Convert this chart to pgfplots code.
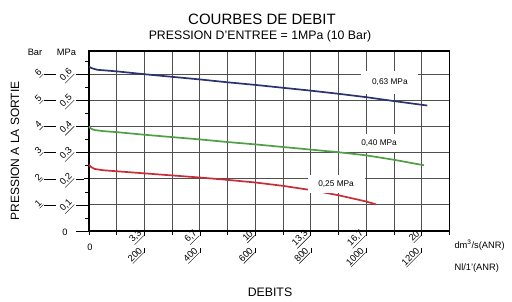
\documentclass[border=0pt]{standalone}
\usepackage{pgfplots}
\pgfplotsset{compat=1.18}
\usepackage{fontspec}
\setmainfont{Liberation Sans}
\definecolor{cblue}{RGB}{43,50,112}
\definecolor{cgreen}{RGB}{80,158,70}
\definecolor{cred}{RGB}{200,45,55}
\definecolor{grd}{RGB}{80,80,80}
\newcommand{\tl}{\fontsize{9.3}{9.3}\selectfont}
\begin{document}
\begin{tikzpicture}
\path (0pt,0pt) rectangle (512pt,301pt);
\node[font=\fontsize{15}{15}\selectfont] at (262pt,281.5pt) {COURBES DE DEBIT};
\node[font=\fontsize{12.3}{12.3}\selectfont] at (260pt,264.5pt) {PRESSION D'ENTREE = 1MPa (10 Bar)};
\node[font=\tl] at (35pt,249pt) {Bar};
\node[font=\tl] at (66.5pt,249pt) {MPa};
\node[rotate=90,font=\fontsize{12}{12}\selectfont] at (15pt,150pt) {PRESSION A LA SORTIE};
\node[font=\fontsize{12.3}{12.3}\selectfont] at (270pt,9pt) {DEBITS};
\node[anchor=west,font=\tl] at (451pt,56pt) {dm\textsuperscript{3}/s(ANR)};
\node[anchor=west,font=\tl] at (451pt,33pt) {Nl/1'(ANR)};
\begin{axis}[
  at={(89pt,70pt)}, anchor=south west, scale only axis,
  width=360.5pt, height=180pt,
  xmin=0, xmax=1300, ymin=0, ymax=0.69,
  axis line style={line width=1.6pt, black},
  xtick={200,400,600,800,1000,1200},
  xticklabels={{\underline{3,3}},{\underline{6,7}},{\underline{10}},{\underline{13,3}},{\underline{16,7}},{\underline{20}}},
  minor xtick={0,100,300,500,700,900,1100,1300},
  ytick={0.1,0.2,0.3,0.4,0.5,0.6},
  yticklabels={{\underline{0,1}},{\underline{0,2}},{\underline{0,3}},{\underline{0,4}},{\underline{0,5}},{\underline{0,6}}},
  minor ytick={0.05,0.15,0.25,0.35,0.45,0.55,0.65},
  xtick pos=bottom, ytick pos=left,
  tick align=outside,
  major tick length=5pt, minor tick length=4pt,
  xmajorgrids, xminorgrids, ymajorgrids,
  grid style={grd, line width=1pt},
  minor grid style={grd, line width=1pt},
  tick style={black, line width=0.7pt},
  xticklabel style={font=\tl, rotate=45, anchor=south east, inner sep=0pt},
  yticklabel style={font=\tl, xshift=-9pt, rotate=45, anchor=south east, inner sep=0pt},
  clip=false,
]
\addplot[cblue, line width=1.7pt] coordinates {(0,0.630)(10,0.624)(30,0.618)(100,0.612)(200,0.601)(300,0.591)(400,0.581)(500,0.570)(600,0.560)(700,0.549)(800,0.538)(900,0.526)(1000,0.513)(1100,0.498)(1220,0.481)};
\addplot[cgreen, line width=1.7pt] coordinates {(0,0.400)(8,0.392)(20,0.387)(50,0.383)(100,0.379)(200,0.369)(300,0.360)(400,0.351)(500,0.341)(600,0.332)(700,0.322)(800,0.312)(900,0.302)(1000,0.290)(1100,0.273)(1208,0.252)};
\addplot[cred, line width=1.7pt] coordinates {(0,0.254)(8,0.245)(20,0.238)(50,0.233)(100,0.229)(200,0.221)(300,0.213)(400,0.205)(500,0.196)(600,0.186)(700,0.173)(800,0.157)(900,0.137)(1000,0.113)(1035,0.102)};
\node[fill=white, minimum width=57pt, minimum height=23pt, font=\fontsize{8.3}{8.3}\selectfont] at (axis cs:1085,0.571) {0,63 MPa};
\node[fill=white, minimum width=54pt, minimum height=18pt, font=\fontsize{8.3}{8.3}\selectfont] at (axis cs:1046,0.337) {0,40 MPa};
\node[fill=white, minimum width=57pt, minimum height=18pt, font=\fontsize{8.3}{8.3}\selectfont] at (axis cs:891,0.180) {0,25 MPa};
\end{axis}
% decorations: connectors, Bar column, second x row
\foreach \k in {1,...,6} {
  \pgfmathsetmacro\yy{70+26.087*\k}
  \draw[line width=0.6pt] (76pt,\yy pt) -- (84pt,\yy pt);
  \draw[line width=0.6pt] (44pt,\yy pt) -- (56pt,\yy pt);
  \node[font=\tl, rotate=45, anchor=south east, inner sep=0pt] at (44pt,\yy pt) {\underline{\k}};
}
\draw[line width=0.6pt] (76pt,70pt) -- (89pt,70pt);
\node[font=\tl] at (65pt,69pt) {0};
\node[font=\tl] at (90pt,54pt) {0};
\foreach \v in {200,400,600,800,1000,1200} {
  \pgfmathsetmacro\xx{89+0.27731*\v}
  \draw[line width=0.6pt] (\xx pt,53pt) -- (\xx pt,48pt);
  \node[font=\tl, rotate=45, anchor=south east, inner sep=0pt] at (\xx pt,48pt) {\underline{\v}};
}
\end{tikzpicture}
\end{document}
